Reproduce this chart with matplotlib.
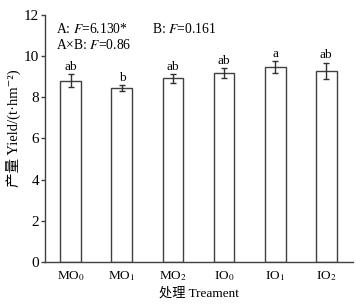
import matplotlib
matplotlib.use('Agg')
import matplotlib.pyplot as plt
import numpy as np

plt.rcParams['font.family'] = ['Liberation Serif', 'Noto Sans CJK SC', 'DejaVu Serif']
plt.rcParams['mathtext.fontset'] = 'stix'
plt.rcParams['font.size'] = 9

# data
treatments = ['MO$_0$', 'MO$_1$', 'MO$_2$', 'IO$_0$', 'IO$_1$', 'IO$_2$']
yield_mean = [8.81, 8.47, 8.93, 9.17, 9.46, 9.30]
yield_err = [0.32, 0.15, 0.22, 0.23, 0.29, 0.39]
letters = ['ab', 'b', 'ab', 'ab', 'a', 'ab']

edge = '#404040'

fig = plt.figure(figsize=(3.56, 3.05), dpi=100)
ax = fig.add_axes([0.126, 0.141, 0.866, 0.81])

x = np.arange(len(treatments))
ax.bar(x, yield_mean, width=0.41, color='white', edgecolor=edge, linewidth=1.0)
ax.errorbar(x, yield_mean, yerr=yield_err, fmt='none', ecolor='#303030',
            elinewidth=1.0, capsize=2.5, capthick=1.0)

# significance letters
for xi, m, e, lab in zip(x, yield_mean, yield_err, letters):
    ax.text(xi, m + e + 0.05, lab, ha='center', va='bottom', fontsize=9.5)

# F statistics
ax.text(0.035, 0.97, 'A: $F$=6.130*', transform=ax.transAxes, fontsize=9.8,
        ha='left', va='top')
ax.text(0.347, 0.97, 'B: $F$=0.161', transform=ax.transAxes, fontsize=9.8,
        ha='left', va='top')
ax.text(0.035, 0.905, 'A×B: $F$=0.86', transform=ax.transAxes, fontsize=9.8,
        ha='left', va='top')

ax.set_xlim(-0.51, 5.53)
ax.set_ylim(0, 12)
ax.set_yticks([0, 2, 4, 6, 8, 10, 12])
ax.set_xticks(x)
ax.set_xticklabels(treatments, fontsize=9.5)
ax.tick_params(axis='x', length=0, pad=5)
ax.tick_params(axis='y', length=3, width=1.0, color=edge, labelsize=11, pad=1)

ax.spines['top'].set_visible(False)
ax.spines['right'].set_visible(False)
for side in ['left', 'bottom']:
    ax.spines[side].set_color(edge)
    ax.spines[side].set_linewidth(1.0)

ax.set_ylabel('产量 Yield/(t·hm⁻²)', fontsize=10.5)
ax.yaxis.set_label_coords(-0.078, 0.54)
ax.set_xlabel('处理 Treament', fontsize=9.5, labelpad=3)

fig.savefig('out.png', dpi=100)
